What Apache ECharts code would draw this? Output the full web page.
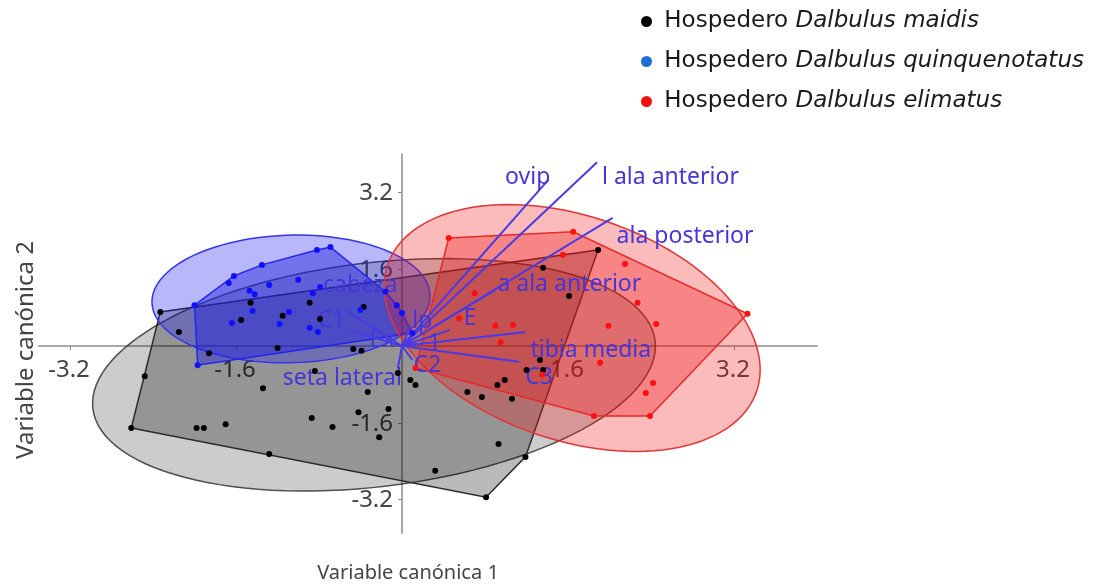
<!DOCTYPE html>
<html><head><meta charset="utf-8">
<script src="https://cdn.jsdelivr.net/npm/echarts@6/dist/echarts.min.js"></script>
<style>html,body{margin:0;padding:0;background:#fff}#c{width:1102px;height:587px}</style>
</head><body><div id="c"></div>
<script>
// ---------- DATA ----------
const xTicks = [-3.2, -1.6, 1.6, 3.2];
const yTicks = [-3.2, -1.6, 1.6, 3.2];
const xTitle = 'Variable canónica 1';
const yTitle = 'Variable canónica 2';
const groupNames = ['Hospedero Dalbulus maidis', 'Hospedero Dalbulus quinquenotatus', 'Hospedero Dalbulus elimatus'];

const maidisX = [-2.33,-2.15,-2.48,-1.86,-1.46,-1.55,-1.15,-0.89,-0.79,-0.37,-1.20,-0.47,-0.39,-1.34,-0.84,-2.61,-1.98,-1.91,-1.70,-0.87,-0.67,-0.42,-0.13,-0.33,-0.22,-1.28,0.32,-0.04,0.08,0.13,1.33,1.20,1.36,0.92,0.99,0.63,0.77,1.06,0.93,1.19,0.81,1.89,1.36,1.61];
const maidisY = [0.71,0.29,-0.63,-0.15,0.90,0.54,0.63,0.90,0.56,0.81,-0.04,-0.06,-0.10,-0.88,-0.52,-1.71,-1.71,-1.71,-1.63,-1.50,-1.69,-1.38,-1.31,-0.96,-1.90,-2.25,-2.60,-0.56,-0.71,-0.81,-0.29,-0.50,-0.50,-0.81,-0.71,-0.96,-1.06,-1.10,-2.04,-2.31,-3.15,2.00,1.63,1.04];

const quinqX = [-2.00,-1.67,-1.62,-1.35,-1.28,-1.00,-0.82,-0.69,-1.47,-1.42,-1.44,-1.64,-1.18,-1.09,-0.89,-0.81,-0.86,-0.79,-0.40,-0.16,-0.05,0.00,0.10,-1.97];
const quinqY = [0.85,1.31,1.46,1.69,1.27,1.38,2.00,2.06,1.15,1.08,0.73,0.48,0.46,0.71,0.38,0.29,1.10,1.23,0.75,1.13,0.85,0.69,0.27,-0.40];

const elimX = [0.45,1.65,1.55,2.15,0.70,0.55,0.90,1.07,0.95,2.27,2.45,1.99,3.33,1.91,2.42,2.35,2.39,1.85,1.35,0.13];
const elimY = [2.25,2.38,1.90,1.71,1.10,0.58,0.42,0.44,0.08,0.90,0.46,0.42,0.67,-0.35,-0.77,-0.98,-1.46,-1.46,-0.60,-0.46];

// ellipse: centre x, centre y, semi-diameter A (x,y), conjugate semi-diameter B (x,y)
const ellipseMaidis = [-0.27, -0.60, 2.65, 0.08, 0.58, 2.42];
const ellipseQuinq  = [-1.07, 0.98, 1.34, 0.04, 0.02, 1.33];
const ellipseElim   = [1.64, 0.375, 1.78, -0.40, -0.34, 2.54];

const vectorNames = ['ovip','l ala anterior','ala posterior','a ala anterior','tibia media','C3','E','lp','1','C2','seta lateral','Ex','C1','cabeza'];
const vectorX = [1.41, 1.88, 2.03, 0.90, 1.19, 1.13, 0.46, 0.08, 0.22, 0.10, -0.04, -0.12, -0.50, -0.55];
const vectorY = [3.46, 3.83, 2.67, 1.17, 0.29, -0.33, 0.33, 0.42, 0.06, -0.29, -0.46, 0.08, 0.33, 0.75];

// ---------- STYLE ----------
const labelStyle = {
  'ovip': [2, -2, 'right'],
  'l ala anterior': [5, 15, 'left'],
  'ala posterior': [4, 19, 'left'],
  'a ala anterior': [2, -5, 'left'],
  'tibia media': [5, 18, 'left'],
  'C3': [6, 16, 'left'],
  'E': [14, -12, 'left'],
  'lp': [2, -4, 'left'],
  '1': [3, 0, 'left'],
  'C2': [1, 6, 'left'],
  'seta lateral': [4, 10, 'right'],
  'Ex': [5, -2, 'right'],
  'C1': [-5, -10, 'right'],
  'cabeza': [-22, -25, 'left']
};
const FONT = 'Noto Sans';
const TICK_FONT = 24;

function hull(xs, ys) {
  const p = xs.map((x, i) => [x, ys[i]]).sort((a, b) => a[0] - b[0] || a[1] - b[1]);
  const cross = (o, a, b) => (a[0]-o[0])*(b[1]-o[1]) - (a[1]-o[1])*(b[0]-o[0]);
  const lo = [], up = [];
  for (const q of p) { while (lo.length >= 2 && cross(lo[lo.length-2], lo[lo.length-1], q) <= 0) lo.pop(); lo.push(q); }
  for (let i = p.length - 1; i >= 0; i--) { const q = p[i]; while (up.length >= 2 && cross(up[up.length-2], up[up.length-1], q) <= 0) up.pop(); up.push(q); }
  up.pop(); lo.pop();
  return lo.concat(up);
}

function ellipseSeries(e, fill, stroke) {
  return {
    type: 'custom', coordinateSystem: 'cartesian2d', silent: true,
    data: [[e[0], e[1]]],
    renderItem: function (params, api) {
      const pts = [];
      for (let k = 0; k < 120; k++) {
        const t = k / 120 * Math.PI * 2;
        pts.push(api.coord([e[0] + e[2]*Math.cos(t) + e[4]*Math.sin(t), e[1] + e[3]*Math.cos(t) + e[5]*Math.sin(t)]));
      }
      return { type: 'polygon', shape: { points: pts }, style: { fill: fill, stroke: stroke, lineWidth: 1.5 } };
    }
  };
}
function hullSeries(xs, ys, fill, stroke) {
  const h = hull(xs, ys);
  return {
    type: 'custom', coordinateSystem: 'cartesian2d', silent: true,
    data: [h[0]],
    renderItem: function (params, api) {
      return { type: 'polygon', shape: { points: h.map(q => api.coord(q)) }, style: { fill: fill, stroke: stroke, lineWidth: 1.5 } };
    }
  };
}
function scatter(name, xs, ys, color) {
  return { type: 'scatter', name: name, symbolSize: 6, itemStyle: { color: color, opacity: 1 }, data: xs.map((x, i) => [x, ys[i]]), silent: true };
}
// tick labels drawn at the axis crossing (axes sit on zero)
function tickLabelSeries() {
  const d = xTicks.map(v => [v, 0, 0]).concat(yTicks.map(v => [0, v, 1]));
  return {
    type: 'custom', coordinateSystem: 'cartesian2d', silent: true, z: 1,
    data: d,
    renderItem: function (params, api) {
      const isY = api.value(2) === 1;
      const v = isY ? api.value(1) : api.value(0);
      const p = api.coord([api.value(0), api.value(1)]);
      return {
        type: 'text',
        style: isY
          ? { text: v.toFixed(1), x: p[0] - 9, y: p[1] + 1, align: 'right', verticalAlign: 'middle', fontSize: TICK_FONT, fontFamily: FONT, fill: '#444' }
          : { text: v.toFixed(1), x: p[0] - 1, y: p[1] + 24, align: 'center', verticalAlign: 'middle', fontSize: TICK_FONT, fontFamily: FONT, fill: '#444' }
      };
    }
  };
}

const chart = echarts.init(document.getElementById('c'), null, { renderer: 'canvas' });
chart.setOption({
  animation: false,
  grid: { left: 38.9, right: 285, top: 154, bottom: 53.8, containLabel: false, outerBoundsMode: 'none' },
  xAxis: {
    type: 'value', min: -3.5, max: 4.0,
    axisLine: { onZero: true, lineStyle: { color: '#8c8c8c', width: 1.5 } },
    axisTick: { customValues: xTicks, length: 4, lineStyle: { color: '#8c8c8c' } },
    axisLabel: { show: false },
    splitLine: { show: false }
  },
  yAxis: {
    type: 'value', min: -3.9, max: 4.0,
    axisLine: { onZero: true, lineStyle: { color: '#8c8c8c', width: 1.5 } },
    axisTick: { customValues: yTicks, length: 4, lineStyle: { color: '#8c8c8c' } },
    axisLabel: { show: false },
    splitLine: { show: false }
  },
  legend: {
    orient: 'vertical', left: 636, top: 4, itemGap: 15, icon: 'circle', itemWidth: 11, itemHeight: 11,
    data: [
      { name: groupNames[0], itemStyle: { color: '#000' } },
      { name: groupNames[1], itemStyle: { color: '#1a6fd6' } },
      { name: groupNames[2], itemStyle: { color: '#f01010' } }
    ],
    formatter: n => ' {a|Hospedero} {b|' + n.replace('Hospedero ', '') + '}',
    textStyle: {
      color: '#1a1a1a', fontSize: 23, fontFamily: 'DejaVu Sans', lineHeight: 25,
      rich: { a: { fontSize: 23, fontFamily: 'DejaVu Sans', color: '#1a1a1a', lineHeight: 25 }, b: { fontSize: 23, fontFamily: 'DejaVu Sans', fontStyle: 'italic', color: '#1a1a1a', lineHeight: 25 } }
    }
  },
  graphic: [
    { type: 'text', x: 408, y: 573, style: { text: xTitle, fontSize: 20, fontFamily: FONT, fill: '#444', align: 'center', verticalAlign: 'middle' } },
    { type: 'text', x: 26, y: 350, rotation: Math.PI / 2, style: { text: yTitle, fontSize: 24, fontFamily: FONT, fill: '#444', align: 'center', verticalAlign: 'middle' } }
  ],
  series: [
    tickLabelSeries(),
    ellipseSeries(ellipseMaidis, 'rgba(0,0,0,0.2)', 'rgba(50,50,50,0.85)'),
    hullSeries(maidisX, maidisY, 'rgba(0,0,0,0.27)', '#2a2a2a'),
    ellipseSeries(ellipseQuinq, 'rgba(30,30,235,0.32)', '#3434ee'),
    hullSeries(quinqX, quinqY, 'rgba(30,30,225,0.45)', '#2424f0'),
    ellipseSeries(ellipseElim, 'rgba(240,20,20,0.29)', '#e03535'),
    hullSeries(elimX, elimY, 'rgba(240,20,20,0.33)', '#e62a2a'),
    scatter(groupNames[0], maidisX, maidisY, '#000'),
    scatter(groupNames[1], quinqX, quinqY, '#1010ff'),
    scatter(groupNames[2], elimX, elimY, '#ff1010'),
    {
      type: 'custom', coordinateSystem: 'cartesian2d', silent: true,
      data: vectorX.map((x, i) => [x, vectorY[i], i]),
      renderItem: function (params, api) {
        const i = api.value(2);
        const o = api.coord([0, 0]);
        const e = api.coord([api.value(0), api.value(1)]);
        const ls = labelStyle[vectorNames[i]];
        return {
          type: 'group', children: [
            { type: 'line', shape: { x1: o[0], y1: o[1], x2: e[0], y2: e[1] }, style: { stroke: '#4a3ae6', lineWidth: 2 } },
            { type: 'text', style: { text: vectorNames[i], x: e[0] + ls[0], y: e[1] + ls[1], align: ls[2], verticalAlign: 'middle', fontSize: 23, fontFamily: FONT, fill: '#4536d8' } }
          ]
        };
      }
    }
  ]
});
</script></body></html>
